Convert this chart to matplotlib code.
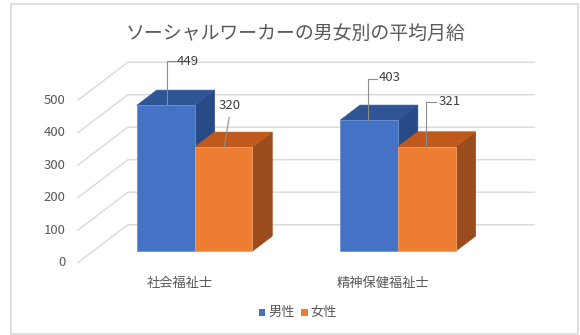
import matplotlib
matplotlib.use("Agg")
import matplotlib.pyplot as plt
from matplotlib.patches import Polygon, Rectangle

plt.rcParams['font.family'] = ['Noto Sans CJK JP', 'DejaVu Sans']

# ---- data ----
title = "ソーシャルワーカーの男女別の平均月給"
categories = ["社会福祉士", "精神保健福祉士"]
series_names = ["男性", "女性"]
male = [449, 403]
female = [320, 321]
y_ticks = [0, 100, 200, 300, 400, 500]

# ---- styling ----
front_cols = ["#4472C4", "#ED7D31"]
top_cols = ["#2F5597", "#C0591C"]
side_cols = ["#284A86", "#9A4C1C"]
edge_cols = ["#6F94D8", "#F3A069"]
grid_col = "#D9D9D9"
text_col = "#595959"

W, H = 580, 335
DPI = 100
CAT_PX = 203.3         # pixels per category
VAL_PX = 0.325         # pixels per value unit
DEPTH_DX = 50.0        # oblique offset (px) of the back wall
DEPTH_DY = 38.0
ORIGIN_X = 179.5       # first category, front plane
ORIGIN_Y = 72.3        # value 0, front plane (from bottom)
BAR_W = 0.284          # bar width in category units
BAR_D0, BAR_D1 = 0.3, 0.7   # bar depth range (0 front, 1 back wall)

fig = plt.figure(figsize=(W / DPI, H / DPI), dpi=DPI)
ax = fig.add_axes([0, 0, 1, 1])
ax.set_xlim(-ORIGIN_X / CAT_PX, (W - ORIGIN_X) / CAT_PX)
ax.set_ylim(-ORIGIN_Y / VAL_PX, (H - ORIGIN_Y) / VAL_PX)
ax.axis("off")


def proj(x, v, d):
    """Oblique projection of (category x, value v, depth d) to axes data."""
    return (x + d * DEPTH_DX / CAT_PX, v + d * DEPTH_DY / VAL_PX)


def px(dx, dy):
    """Pixel offset -> data offset (dy positive = up)."""
    return dx / CAT_PX, dy / VAL_PX


# chart border
fig.patches.append(Rectangle((11 / W, 1 / H), 567 / W, 330 / H,
                             transform=fig.transFigure, fill=False,
                             edgecolor=grid_col, linewidth=1.2))

# title
fig.text(296 / W, 1 - 33 / H, title, ha="center", va="center",
         fontsize=13.6, color=text_col)

# gridlines: side wall diagonal + back wall
x_left, x_right = -0.5, len(categories) - 0.5
for t in y_ticks:
    p0 = proj(x_left, t, 0)
    p1 = proj(x_left, t, 1)
    p2 = proj(x_right, t, 1)
    ax.plot([p0[0], p1[0], p2[0]], [p0[1], p1[1], p2[1]],
            color=grid_col, lw=1.0, zorder=1)
    ox, _ = px(-12, 0)
    ax.text(p0[0] + ox, p0[1], str(t), ha="right", va="center",
            fontsize=9.5, color=text_col)


def draw_bar(xl, xr, v, k, z):
    side = [proj(xr, 0, BAR_D0), proj(xr, 0, BAR_D1),
            proj(xr, v, BAR_D1), proj(xr, v, BAR_D0)]
    top = [proj(xl, v, BAR_D0), proj(xr, v, BAR_D0),
           proj(xr, v, BAR_D1), proj(xl, v, BAR_D1)]
    front = [proj(xl, 0, BAR_D0), proj(xr, 0, BAR_D0),
             proj(xr, v, BAR_D0), proj(xl, v, BAR_D0)]
    ax.add_patch(Polygon(side, closed=True, facecolor=side_cols[k],
                         edgecolor=side_cols[k], lw=0.5, zorder=z))
    ax.add_patch(Polygon(top, closed=True, facecolor=top_cols[k],
                         edgecolor=top_cols[k], lw=0.5, zorder=z))
    ax.add_patch(Polygon(front, closed=True, facecolor=front_cols[k],
                         edgecolor=edge_cols[k], lw=0.6, zorder=z + 0.5))


values = [male, female]
z = 2
for i in range(len(categories)):
    for k, vals in enumerate(values):
        xl = i - BAR_W + k * BAR_W
        draw_bar(xl, xl + BAR_W, vals[i], k, z)
        z += 1

# category labels
for i, c in enumerate(categories):
    _, dy = px(0, -20.3)
    ax.text(i, dy, c, ha="center", va="center", fontsize=9.5, color=text_col)

# data labels with leader lines (pixel offsets from the bar's front top centre)
# (leader path points..., text position, text alignment)
label_layout = {
    (0, 0): ([(1.2, 0), (1.2, 44), (10.5, 44)], (11.5, 44), "left"),
    (0, 1): ([(0.8, 0), (5.8, 30)], (5.8, 41.6), "center"),
    (1, 0): ([(-0.5, 0), (-0.5, 41.7), (7.9, 41.7)], (9.9, 43), "left"),
    (1, 1): ([(-0.3, 0), (-0.3, 45), (9.7, 45)], (12.3, 45), "left"),
}
for i in range(len(categories)):
    for k, vals in enumerate(values):
        v = vals[i]
        cx = i - BAR_W + k * BAR_W + BAR_W / 2
        ax_, ay_ = proj(cx, v, BAR_D0)
        path, tpos, ha = label_layout[(i, k)]
        xs, ys = [], []
        for dx, dy in path:
            ddx, ddy = px(dx, dy)
            xs.append(ax_ + ddx)
            ys.append(ay_ + ddy)
        ax.plot(xs, ys, color="#8C8C8C", lw=0.8, zorder=20)
        tdx, tdy = px(*tpos)
        ax.text(ax_ + tdx, ay_ + tdy, str(v), ha=ha, va="center",
                fontsize=9.5, color="#404040", zorder=21)

# legend
leg_y = 1 - 312.7 / H
for k, name in enumerate(series_names):
    x0 = (258.5 + k * 42.5) / W
    fig.patches.append(Rectangle((x0, leg_y - 3.2 / H), 6.5 / W, 6.5 / H,
                                 transform=fig.transFigure,
                                 facecolor=front_cols[k], edgecolor="none"))
    fig.text(x0 + 9.5 / W, leg_y, name, ha="left", va="center",
             fontsize=9.5, color=text_col)

fig.savefig("out.png", dpi=DPI)
